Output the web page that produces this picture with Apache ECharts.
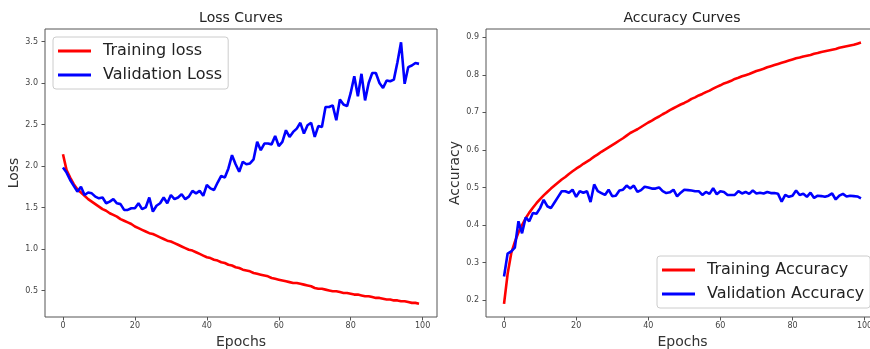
<!DOCTYPE html>
<html>
<head>
<meta charset="utf-8">
<script src="https://cdn.jsdelivr.net/npm/echarts@6/dist/echarts.min.js"></script>
<style>
  html, body { margin: 0; padding: 0; background: #fff; }
  #chart { width: 870px; height: 349px; }
</style>
</head>
<body>
<div id="chart"></div>
<script>
// epochs 0..99
const epochs = [];
for (let i = 0; i < 100; i++) epochs.push(i);

const trainLoss = [2.14, 1.95, 1.86, 1.78, 1.72, 1.68, 1.64, 1.60, 1.57, 1.54,
  1.51, 1.48, 1.46, 1.43, 1.41, 1.39, 1.36, 1.34, 1.32, 1.30,
  1.27, 1.25, 1.23, 1.21, 1.19, 1.18, 1.16, 1.14, 1.12, 1.10,
  1.09, 1.07, 1.05, 1.03, 1.01, 0.99, 0.98, 0.96, 0.94, 0.92,
  0.90, 0.89, 0.87, 0.86, 0.84, 0.83, 0.81, 0.80, 0.78, 0.77,
  0.75, 0.74, 0.73, 0.71, 0.70, 0.69, 0.68, 0.67, 0.65, 0.64,
  0.63, 0.62, 0.61, 0.60, 0.59, 0.59, 0.58, 0.57, 0.56, 0.55,
  0.53, 0.52, 0.52, 0.51, 0.50, 0.49, 0.49, 0.48, 0.47, 0.47,
  0.46, 0.45, 0.45, 0.44, 0.43, 0.43, 0.42, 0.41, 0.41, 0.40,
  0.39, 0.39, 0.38, 0.38, 0.37, 0.37, 0.36, 0.35, 0.35, 0.34];

const valLoss = [1.98, 1.92, 1.83, 1.76, 1.69, 1.75, 1.65, 1.68, 1.67, 1.63,
  1.61, 1.62, 1.55, 1.57, 1.60, 1.55, 1.54, 1.47, 1.47, 1.49,
  1.49, 1.55, 1.48, 1.50, 1.62, 1.45, 1.52, 1.55, 1.62, 1.55,
  1.65, 1.60, 1.62, 1.66, 1.60, 1.63, 1.70, 1.67, 1.70, 1.64,
  1.77, 1.73, 1.71, 1.80, 1.88, 1.86, 1.97, 2.13, 2.02, 1.93,
  2.05, 2.02, 2.03, 2.08, 2.29, 2.19, 2.27, 2.27, 2.26, 2.36,
  2.24, 2.29, 2.43, 2.35, 2.41, 2.45, 2.52, 2.39, 2.49, 2.52,
  2.35, 2.48, 2.47, 2.71, 2.71, 2.73, 2.55, 2.80, 2.74, 2.72,
  2.88, 3.08, 2.84, 3.11, 2.79, 3.00, 3.12, 3.12, 3.00, 2.94,
  3.03, 3.02, 3.04, 3.25, 3.49, 2.99, 3.19, 3.21, 3.24, 3.23];

const trainAcc = [0.19, 0.27, 0.325, 0.355, 0.38, 0.40, 0.418, 0.433, 0.446, 0.458,
  0.469, 0.479, 0.488, 0.497, 0.505, 0.513, 0.521, 0.528, 0.536, 0.543,
  0.55, 0.556, 0.563, 0.569, 0.575, 0.582, 0.588, 0.595, 0.601, 0.607,
  0.613, 0.619, 0.625, 0.631, 0.638, 0.645, 0.650, 0.655, 0.661, 0.667,
  0.673, 0.678, 0.684, 0.689, 0.695, 0.700, 0.706, 0.711, 0.716, 0.721,
  0.725, 0.730, 0.736, 0.740, 0.745, 0.749, 0.754, 0.758, 0.763, 0.768,
  0.772, 0.777, 0.780, 0.784, 0.789, 0.792, 0.796, 0.799, 0.802, 0.806,
  0.810, 0.813, 0.816, 0.820, 0.823, 0.826, 0.829, 0.832, 0.835, 0.838,
  0.841, 0.844, 0.846, 0.849, 0.851, 0.853, 0.856, 0.858, 0.861, 0.863,
  0.865, 0.867, 0.869, 0.872, 0.874, 0.876, 0.878, 0.880, 0.883, 0.886];

const valAcc = [0.263, 0.324, 0.33, 0.34, 0.41, 0.378, 0.42, 0.41, 0.432, 0.43,
  0.445, 0.467, 0.45, 0.445, 0.46, 0.475, 0.49, 0.49, 0.486, 0.494,
  0.475, 0.49, 0.486, 0.49, 0.461, 0.508, 0.49, 0.485, 0.48, 0.494,
  0.477, 0.478, 0.492, 0.494, 0.505, 0.497, 0.505, 0.488, 0.493, 0.502,
  0.50, 0.497, 0.497, 0.50, 0.49, 0.485, 0.487, 0.494, 0.476, 0.486,
  0.494, 0.493, 0.492, 0.49, 0.49, 0.48, 0.488, 0.483, 0.498, 0.482,
  0.49, 0.488, 0.48, 0.48, 0.48, 0.49, 0.484, 0.488, 0.483, 0.492,
  0.484, 0.486, 0.484, 0.488, 0.485, 0.485, 0.483, 0.462, 0.48, 0.475,
  0.478, 0.492, 0.48, 0.483, 0.475, 0.486, 0.472, 0.478, 0.477, 0.475,
  0.478, 0.484, 0.468, 0.478, 0.483, 0.476, 0.478, 0.477, 0.476, 0.471];

// tick positions
const xTicks = [0, 20, 40, 60, 80, 100];
const lossTicks = [0.5, 1.0, 1.5, 2.0, 2.5, 3.0, 3.5];
const accTicks = [0.2, 0.3, 0.4, 0.5, 0.6, 0.7, 0.8, 0.9];

const FONT = 'DejaVu Sans';
const chart = echarts.init(document.getElementById('chart'));

function pairs(ys) { return epochs.map((e, i) => [e, ys[i]]); }

function xAxisOf(idx) {
  return {
    type: 'value', gridIndex: idx, min: -5, max: 104,
    name: 'Epochs', nameLocation: 'middle', nameGap: 17,
    nameTextStyle: { fontFamily: FONT, fontSize: 14, color: '#333' },
    axisLine: { show: false, onZero: false },
    axisTick: { show: true, length: 3.5, customValues: xTicks, lineStyle: { color: '#555' } },
    axisLabel: {
      fontFamily: FONT, fontSize: 8, color: '#444', margin: 5,
      customValues: xTicks, formatter: v => String(v)
    },
    splitLine: { show: false }
  };
}

function yAxisOf(idx, name, min, max, ticks, gap) {
  return {
    type: 'value', gridIndex: idx, min: min, max: max,
    name: name, nameLocation: 'middle', nameGap: gap,
    nameTextStyle: { fontFamily: FONT, fontSize: 14, color: '#333' },
    axisLine: { show: false, onZero: false },
    axisTick: { show: true, length: 3.5, customValues: ticks, lineStyle: { color: '#555' } },
    axisLabel: {
      fontFamily: FONT, fontSize: 8, color: '#444', margin: 7,
      customValues: ticks, formatter: v => v.toFixed(1)
    },
    splitLine: { show: false }
  };
}

function legendOf(names, left, top) {
  return {
    orient: 'vertical', left: left, top: top, data: names,
    icon: 'rect', itemWidth: 33, itemHeight: 3, itemGap: 8,
    padding: [6, 6, 6, 5],
    backgroundColor: 'rgba(255,255,255,0.8)', borderColor: '#ccc', borderWidth: 1, borderRadius: 3,
    textStyle: { fontFamily: FONT, fontSize: 16, color: '#222', padding: [0, 0, 0, 7] }
  };
}

chart.setOption({
  animation: false,
  backgroundColor: '#fff',
  title: [
    { text: 'Loss Curves', left: 241, top: 11, textAlign: 'center', padding: 0,
      textStyle: { fontFamily: FONT, fontSize: 14, fontWeight: 'normal', color: '#222' } },
    { text: 'Accuracy Curves', left: 682, top: 11, textAlign: 'center', padding: 0,
      textStyle: { fontFamily: FONT, fontSize: 14, fontWeight: 'normal', color: '#222' } }
  ],
  grid: [
    { left: 45, top: 29, width: 392, height: 288, outerBoundsMode: 'none',
      show: true, borderColor: '#555', borderWidth: 1 },
    { left: 486, top: 29, width: 393, height: 288, outerBoundsMode: 'none',
      show: true, borderColor: '#555', borderWidth: 1 }
  ],
  xAxis: [xAxisOf(0), xAxisOf(1)],
  yAxis: [
    yAxisOf(0, 'Loss', 0.18, 3.65, lossTicks, 22),
    yAxisOf(1, 'Accuracy', 0.155, 0.922, accTicks, 24)
  ],
  legend: [
    legendOf(['Training loss', 'Validation Loss'], 53, 37),
    legendOf(['Training Accuracy', 'Validation Accuracy'], 657, 256)
  ],
  series: [
    { name: 'Training loss', type: 'line', xAxisIndex: 0, yAxisIndex: 0, data: pairs(trainLoss),
      showSymbol: false, color: '#ff0000', lineStyle: { width: 2.6, color: '#ff0000' } },
    { name: 'Validation Loss', type: 'line', xAxisIndex: 0, yAxisIndex: 0, data: pairs(valLoss),
      showSymbol: false, color: '#0000ff', lineStyle: { width: 2.6, color: '#0000ff' } },
    { name: 'Training Accuracy', type: 'line', xAxisIndex: 1, yAxisIndex: 1, data: pairs(trainAcc),
      showSymbol: false, color: '#ff0000', lineStyle: { width: 2.6, color: '#ff0000' } },
    { name: 'Validation Accuracy', type: 'line', xAxisIndex: 1, yAxisIndex: 1, data: pairs(valAcc),
      showSymbol: false, color: '#0000ff', lineStyle: { width: 2.6, color: '#0000ff' } }
  ]
});
</script>
</body>
</html>
